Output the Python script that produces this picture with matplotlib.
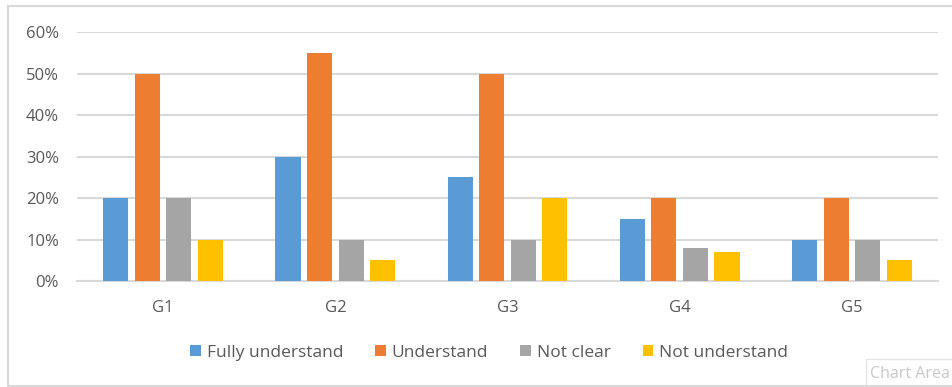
import numpy as np
import matplotlib.pyplot as plt
from matplotlib.patches import Rectangle

groups = ['G1', 'G2', 'G3', 'G4', 'G5']
fully_understand = [20, 30, 25, 15, 10]
understand = [50, 55, 50, 20, 20]
not_clear = [20, 10, 10, 8, 10]
not_understand = [10, 5, 20, 7, 5]

series = [
    ('Fully understand', fully_understand, '#5B9BD5'),
    ('Understand', understand, '#ED7D31'),
    ('Not clear', not_clear, '#A5A5A5'),
    ('Not understand', not_understand, '#FFC000'),
]

plt.rcParams['font.family'] = ['Open Sans', 'DejaVu Sans']
text_col = '#595959'

fig = plt.figure(figsize=(9.52, 3.87), dpi=100)
ax = fig.add_axes([0.0809, 0.2739, 0.9044, 0.6434])

x = np.arange(len(groups))
bar_w = 25 / 172
step = 31.5 / 172
for i, (name, vals, col) in enumerate(series):
    ax.bar(x + (i - 1.5) * step, vals, bar_w, color=col, label=name, zorder=3)

ax.set_xlim(-0.5, len(groups) - 0.5)
ax.set_ylim(0, 60)
ax.set_yticks(range(0, 61, 10))
ax.set_yticklabels([f'{v}%' for v in range(0, 61, 10)])
ax.set_xticks(x)
ax.set_xticklabels(groups)
ax.grid(axis='y', color='#D9D9D9', linewidth=1.5, zorder=0)
for s in ['top', 'right', 'left']:
    ax.spines[s].set_visible(False)
ax.spines['bottom'].set_color('#D9D9D9')
ax.spines['bottom'].set_linewidth(1.5)
ax.tick_params(axis='both', length=0, labelsize=12, labelcolor=text_col)
ax.tick_params(axis='y', pad=13)
ax.tick_params(axis='x', pad=14)

leg = fig.legend(loc='center', bbox_to_anchor=(0.514, 0.088), ncol=4, frameon=False,
                 fontsize=12.5, handlelength=0.6, handleheight=0.6, handletextpad=0.35,
                 columnspacing=1.85)
for t in leg.get_texts():
    t.set_color(text_col)

# outer chart border (left, top, bottom)
fig.add_artist(plt.Line2D([8 / 952, 8 / 952], [1 / 387, 381 / 387], color='#D9D9D9', lw=1.5))
fig.add_artist(plt.Line2D([8 / 952, 1], [381 / 387, 381 / 387], color='#D9D9D9', lw=1.5))
fig.add_artist(plt.Line2D([8 / 952, 1], [1 / 387, 1 / 387], color='#D9D9D9', lw=1.5))

# hover tip box
fig.add_artist(Rectangle((866 / 952, 0), 90 / 952, 28 / 387, facecolor='white',
                         edgecolor='#E6E6E6', lw=1, transform=fig.transFigure))
fig.text(910 / 952, 13 / 387, 'Chart Area', ha='center', va='center', fontsize=11.5,
         color='#C8C8C8')

fig.savefig('out.png', dpi=100)
